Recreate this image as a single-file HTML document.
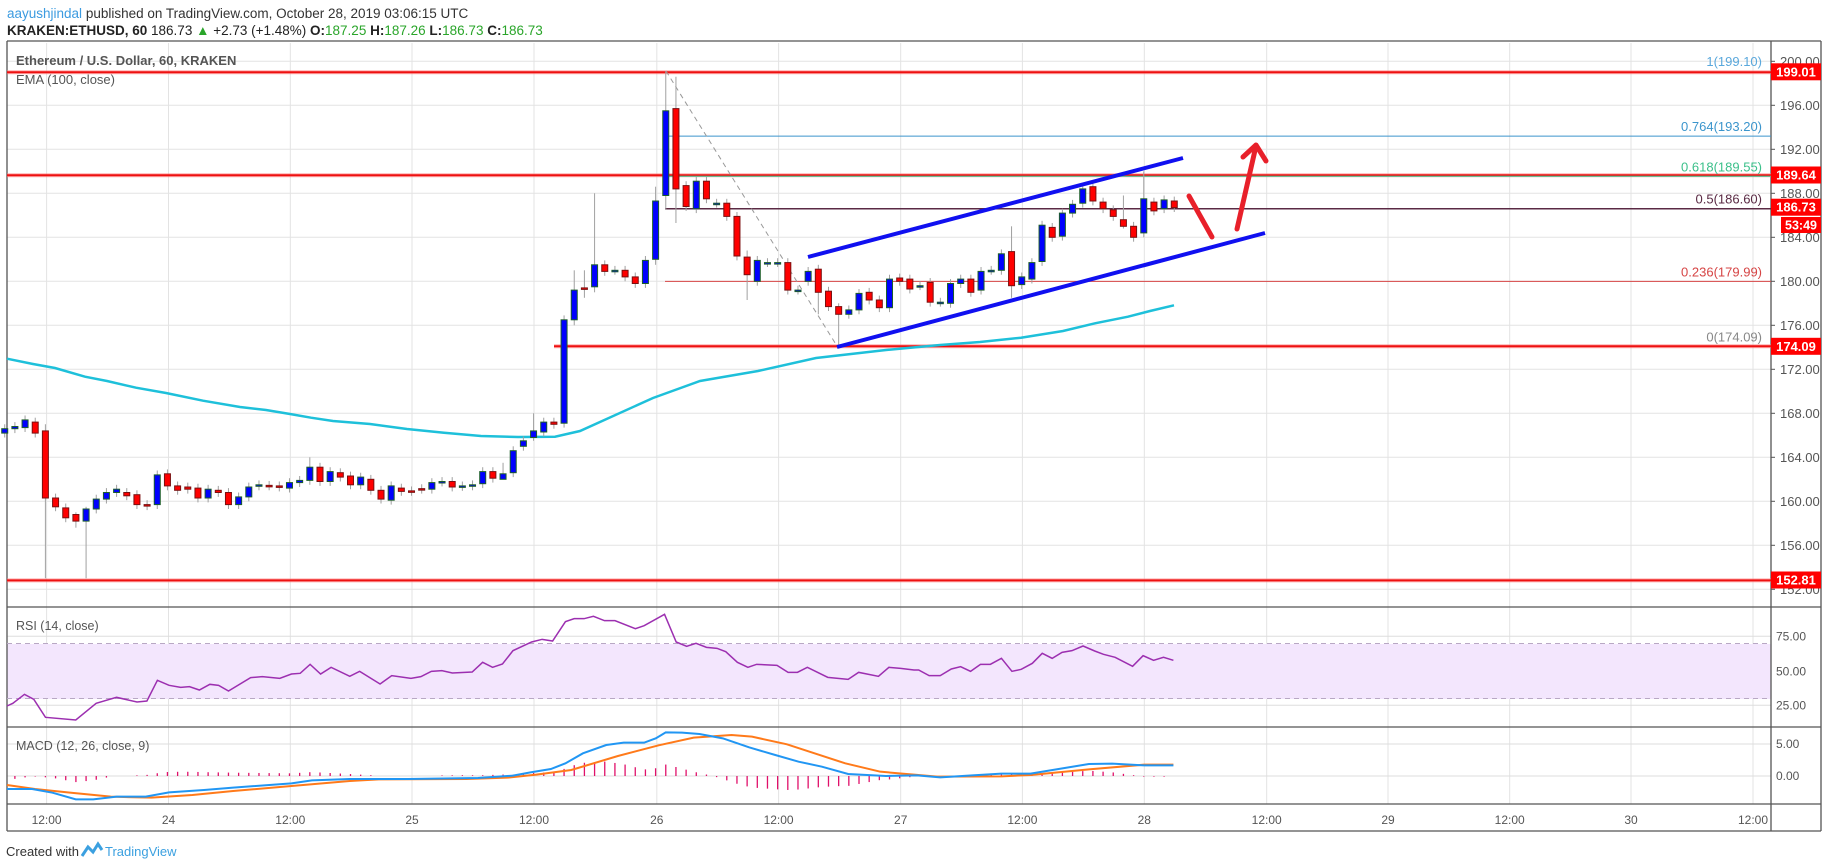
<!DOCTYPE html>
<html><head><meta charset="utf-8">
<style>
html,body{margin:0;padding:0;background:#fff;}
svg{display:block;font-family:"Liberation Sans",Arial,sans-serif;}
</style></head>
<body>
<svg id="s" width="1828" height="868" viewBox="0 0 1828 868" xmlns="http://www.w3.org/2000/svg">
<rect width="1828" height="868" fill="#fff"/>
<g id="grid"></g>
<rect x="7" y="644" width="1764" height="55" fill="#f3e6fd"/>
<g id="lines"></g>
<g id="cand"></g>
<g id="over"></g>
<!-- header -->
<text x="7" y="18" font-size="13.5" fill="#333"><tspan fill="#3c9be0">aayushjindal</tspan> published on TradingView.com, October 28, 2019 03:06:15 UTC</text>
<text x="7" y="35" font-size="13.5" fill="#222"><tspan font-weight="bold">KRAKEN:ETHUSD, 60</tspan> 186.73 <tspan fill="#2aa52a">▲</tspan> +2.73 (+1.48%) <tspan font-weight="bold">O:</tspan><tspan fill="#2aa52a">187.25</tspan> <tspan font-weight="bold">H:</tspan><tspan fill="#2aa52a">187.26</tspan> <tspan font-weight="bold">L:</tspan><tspan fill="#2aa52a">186.73</tspan> <tspan font-weight="bold">C:</tspan><tspan fill="#2aa52a">186.73</tspan></text>
<text x="16" y="65" font-size="13" fill="#555" font-weight="bold">Ethereum / U.S. Dollar, 60, KRAKEN</text>
<text x="16" y="84" font-size="13" fill="#555">EMA (100, close)</text>
<text x="16" y="630" font-size="12.5" fill="#555">RSI (14, close)</text>
<text x="16" y="750" font-size="12.5" fill="#555">MACD (12, 26, close, 9)</text>
<text x="6" y="856" font-size="13" fill="#333">Created with</text>
<path d="M82 856 l6 -9 l5 5 l5 -8 l4 6" fill="none" stroke="#3ba0e0" stroke-width="3"/>
<text x="105" y="856" font-size="13" fill="#3ba0e0">TradingView</text>
</svg>
<script>
const NS="http://www.w3.org/2000/svg";
function el(p,t,a,txt){const e=document.createElementNS(NS,t);for(const k in a)e.setAttribute(k,a[k]);if(txt!==undefined)e.textContent=txt;document.getElementById(p).appendChild(e);return e;}
const Y=p=>149.3+(192-p)*11;
const L=7,R=1771,T=43,B=804;
// grid
const vx=[46.6,168.5,290.3,412,534,656.8,778.6,900.7,1022.4,1144.3,1266.7,1388,1509.7,1631,1753];
const vl=["12:00","24","12:00","25","12:00","26","12:00","27","12:00","28","12:00","29","12:00","30","12:00"];
vx.forEach((x,i)=>{el("grid","line",{x1:x,y1:T,x2:x,y2:B,stroke:"#e3e3e3","stroke-width":1});
 el("grid","text",{x:x,y:824,"font-size":12,fill:"#555","text-anchor":"middle"},vl[i]);});
for(let p=152;p<=200;p+=4){const y=Y(p);el("grid","line",{x1:L,y1:y,x2:R,y2:y,stroke:"#e3e3e3"});
 el("grid","line",{x1:R,y1:y,x2:R+4,y2:y,stroke:"#555"});
 el("grid","text",{x:1780,y:y+4.5,"font-size":13,fill:"#555"},p.toFixed(2));}
[[75,636.3],[50,671.3],[25,705.3]].forEach(a=>{el("grid","line",{x1:L,y1:a[1],x2:R,y2:a[1],stroke:"#ddd"});
 el("grid","text",{x:1776,y:a[1]+4,"font-size":12,fill:"#555"},a[0].toFixed(2));});
[[5,744],[0,776]].forEach(a=>{el("grid","line",{x1:L,y1:a[1],x2:R,y2:a[1],stroke:"#ddd"});
 el("grid","text",{x:1776,y:a[1]+4,"font-size":12,fill:"#555"},a[0].toFixed(2));});
// borders
[[L,41,1821,41],[L,41,L,831],[R,41,R,831],[1821,41,1821,831],[L,607,1821,607],[L,727,1821,727],[L,804,1821,804],[L,831,1821,831]].forEach(a=>el("lines","line",{x1:a[0],y1:a[1],x2:a[2],y2:a[3],stroke:"#555","stroke-width":1.3}));
// rsi dashed
[643.5,698.5].forEach(y=>el("lines","line",{x1:L,y1:y,x2:R,y2:y,stroke:"#b8a8c4","stroke-dasharray":"5 4"}));
// horizontal red lines
[[L,199.01],[L,189.64],[554,174.09],[L,152.81]].forEach(a=>{const y=Y(a[1]);el("lines","line",{x1:a[0],y1:y,x2:R,y2:y,stroke:"#ff8080","stroke-width":4,opacity:0.6});el("lines","line",{x1:a[0],y1:y,x2:R,y2:y,stroke:"#ee1111","stroke-width":2});});
// fib
const fib=[["1(199.10)",199.10,"#5aa8dc",0],["0.764(193.20)",193.2,"#3b95cc",1],["0.618(189.55)",189.55,"#3cc08b",1],["0.5(186.60)",186.6,"#5a2a44",1.5],["0.236(179.99)",179.99,"#d64545",1],["0(174.09)",174.09,"#888",0]];
fib.forEach(f=>{const y=Y(f[1]);if(f[3])el("lines","line",{x1:665,y1:y,x2:R,y2:y,stroke:f[2],"stroke-width":f[3]});
 el("over","text",{x:1762,y:y-5,"font-size":13,fill:f[2],"text-anchor":"end"},f[0]);});
el("lines","line",{x1:666,y1:71,x2:837,y2:346,stroke:"#999","stroke-width":1,"stroke-dasharray":"5 4"});
// EMA
const ema=[[7,358.7],[33,364],[55,368],[85,376.7],[107,381],[136,387.7],[166,393],[203,400.7],[240,407],[266,410],[290,414],[311,417.7],[333,421],[370,424],[407,429],[444,432.7],[481,436],[518,437],[555,436.7],[580,431],[653,398],[700,381],[758,371],[816,358],[886,350],[940,345],[980,342],[1021,337.7],[1063,331],[1095,323.3],[1128,316.7],[1150,311],[1174,305.3]];
el("lines","polyline",{points:ema.map(p=>p.join(",")).join(" "),fill:"none",stroke:"#1ec0da","stroke-width":2.5});
// candles
const D=[[166.2,166.6],[166.6,166.8],[166.7,167.4],[167.2,166.2],[166.4,160.3,167,153],[160.3,159.5],[159.4,158.5],[158.8,158.2,159,157.6],[158.2,159.3,159.5,153],[159.3,160.2],[160.2,160.8],[160.8,161.1],[160.8,160.5],[160.6,159.7],[159.7,159.6],[159.7,162.4],[162.5,161.4],[161.4,161.0],[161.3,161.1],[161.2,160.3],[160.3,161.1],[161.0,160.8],[160.8,159.7],[159.7,160.4],[160.4,161.3],[161.4,161.5],[161.45,161.4],[161.4,161.3],[161.2,161.7],[161.7,161.9],[161.9,163.1,164,161.5],[163.1,161.8],[161.8,162.7],[162.6,162.2],[162.3,161.5],[161.5,162.2],[162.0,161.0],[161.0,160.2],[160.1,161.4],[161.2,160.9],[160.95,160.9],[161.15,161.1],[161.1,161.7],[161.75,161.8],[161.8,161.3],[161.35,161.4],[161.4,161.5],[161.6,162.7],[162.7,162.1],[162.0,162.5,163.5,162],[162.6,164.6],[165.0,165.5],[165.8,166.4,168,165.5],[166.3,167.2],[167.2,167.0],[167.1,176.5],[176.5,179.2,181,176],[179.4,179.3,181,178.5],[179.5,181.5,188,179],[181.5,180.9],[181,181],[181,180.4],[180.4,179.8],[179.8,181.9],[182.0,187.3,188.6,181.5],[187.8,195.5,199.1,186.5],[195.7,188.4,198.6,185.3],[188.7,186.8],[186.6,189.1],[189.1,187.5],[187.1,187.1],[187.1,185.9],[185.9,182.3],[182.2,180.6,182.8,178.3],[180.0,181.9],[181.7,181.7],[181.7,181.7],[181.7,179.2],[179.2,179.2],[180,180.9],[181.1,179,181.5,177],[179.1,177.7],[177.7,177.0,178,174.09],[177.0,177.4],[177.4,178.9],[179,178.3],[178.3,177.6],[177.6,180.2],[180.3,180.0],[180.2,179.3],[179.6,179.6],[179.9,178.1],[178.1,178.1],[178,179.8],[179.8,180.2],[180.2,179],[179.2,180.9],[181,181],[181,182.5],[182.7,179.6,185,178.5],[179.7,180.4],[180.2,181.7],[181.8,185.1],[184.9,184],[184.1,186.2],[186.2,187.0],[187.1,188.4],[188.6,187.3],[187.2,186.6],[186.5,185.9],[185.6,185.0,187.8,184.8],[185,184],[184.4,187.5,190,184],[187.2,186.4],[186.6,187.4],[187.3,186.7]];
D.forEach((d,i)=>{const n=i-64;const cx=655.6+10.17*n;const o=d[0],c=d[1];
 const h=d[2]!==undefined?d[2]:Math.max(o,c)+0.4,l=d[3]!==undefined?d[3]:Math.min(o,c)-0.4;
 const up=c>=o;
 el("cand","line",{x1:cx,y1:Y(h),x2:cx,y2:Y(l),stroke:"#a0a0a0","stroke-width":1});
 const t=Y(Math.max(o,c)),bh=Math.max(Math.abs(Y(o)-Y(c)),1.5);
 el("cand","rect",{x:cx-3,y:t,width:6,height:bh,fill:up?"#0000ff":"#ff0000",stroke:up?"#1d5e2a":"#7a1010","stroke-width":1});
});
// channel
el("over","line",{x1:808,y1:257,x2:1183,y2:158,stroke:"#1010f0","stroke-width":4});
el("over","line",{x1:837,y1:347,x2:1265,y2:233,stroke:"#1010f0","stroke-width":4});
// arrows
el("over","line",{x1:1189,y1:196,x2:1212,y2:237,stroke:"#e8202a","stroke-width":5,"stroke-linecap":"round"});
el("over","line",{x1:1237,y1:229,x2:1256,y2:146,stroke:"#e8202a","stroke-width":5,"stroke-linecap":"round"});
el("over","polyline",{points:"1243,157 1256,145 1266,161",fill:"none",stroke:"#e8202a","stroke-width":5,"stroke-linecap":"round","stroke-linejoin":"round"});
// price tags
[["199.01",71.8],["189.64",175],["186.73",207.2],["174.09",346.3],["152.81",580]].forEach(a=>{el("over","rect",{x:1771,y:a[1]-8.5,width:50,height:17,fill:"#f00"});
 el("over","text",{x:1796,y:a[1]+4.5,"font-size":13,fill:"#fff","font-weight":"bold","text-anchor":"middle"},a[0]);});
el("over","rect",{x:1781,y:217,width:40,height:16,fill:"#f00"});
el("over","text",{x:1801,y:229.5,"font-size":12.5,fill:"#fff","font-weight":"bold","text-anchor":"middle"},"53:49");
// RSI
const r1=[[0,318],[22,310],[42,283],[58,298],[78,352],[130,360],[165,310],[200,292],[235,306],[252,303],[270,241],[290,256],[310,262],[325,260],[342,270],[360,253],[375,256],[392,273],[430,233],[450,230],[480,235],[500,222],[515,220],[532,193],[550,222],[568,202],[600,229],[617,214],[652,252],[672,227],[705,235],[722,230],[740,214],[758,212],[776,219],[810,216],[828,187],[845,202],[862,192],[880,152],[912,126],[930,118],[948,123],[970,65],[985,56],[1002,56],[1018,49],[1037,62],[1055,62],[1090,86],[1105,77],[1140,43],[1160,126],[1178,139],[1194,130],[1212,142],[1230,145],[1245,155],[1265,187],[1283,202],[1298,193],[1333,196],[1352,217],[1368,217],[1385,202],[1420,232],[1455,238],[1473,217],[1507,229],[1525,202],[1545,205],[1568,210]];
const r2=[[8,210],[26,227],[45,227],[64,207],[80,200],[97,214],[114,193],[131,193],[150,175],[168,214],[184,208],[203,190],[220,160],[237,175],[254,157],[271,152],[290,138],[310,153],[325,163],[345,172],[375,199],[393,167],[411,181],[428,172],[445,181]];
const cv=(a,off)=>a.map(p=>[off+p[0]/1.7155,600+p[1]/3]);
const rsi=cv(r1,0).concat(cv(r2,914));rsi[0][0]=7;
el("lines","polyline",{points:rsi.map(p=>p.join(",")).join(" "),fill:"none",stroke:"#9c2fb0","stroke-width":1.5});
// MACD
const mb=cv([[0,567],[55,567],[90,578],[130,598],[160,598],[200,590],[250,590],[290,577],[350,570],[400,563],[500,550],[535,541],[600,537],[700,537],[820,534],[880,527],[910,517],[945,507],[970,490],[1000,460],[1040,435],[1070,428],[1105,428],[1125,415],[1142,397],[1170,398],[1200,402],[1240,415],[1285,442],[1330,465],[1370,485],[1410,500],[1455,522],[1520,528]],0).concat(cv([[5,526],[45,532],[100,526],[150,521],[200,521],[300,492],[340,491],[395,496],[445,496]],914));
const mo=cv([[0,555],[60,567],[120,578],[190,590],[260,593],[330,585],[400,573],[500,558],[600,543],[650,538],[800,537],[870,533],[920,524],[980,510],[1060,468],[1130,436],[1190,413],[1255,405],[1290,410],[1350,433],[1450,490],[1510,515]],0).concat(cv([[0,524],[40,530],[150,529],[200,525],[300,508],[395,494],[445,494]],914));
mb[0][0]=7;mo[0][0]=7;
function itp(a,x){for(let i=0;i<a.length-1;i++){if(x>=a[i][0]&&x<=a[i+1][0]){const t=(x-a[i][0])/(a[i+1][0]-a[i][0]);return a[i][1]+t*(a[i+1][1]-a[i][1]);}}return null;}
for(let n=-63;n<=51;n++){const x=655.6+10.17*n;const b=itp(mb,x),o=itp(mo,x);if(b===null||o===null)continue;const d=o-b;if(Math.abs(d)<0.5)continue;
 el("lines","line",{x1:x,y1:776,x2:x,y2:776-d,stroke:"#e0106a","stroke-width":1.3});}
el("lines","polyline",{points:mo.map(p=>p.join(",")).join(" "),fill:"none",stroke:"#ff7a1a","stroke-width":2});
el("lines","polyline",{points:mb.map(p=>p.join(",")).join(" "),fill:"none",stroke:"#2196f3","stroke-width":2});
</script>
</body></html>
